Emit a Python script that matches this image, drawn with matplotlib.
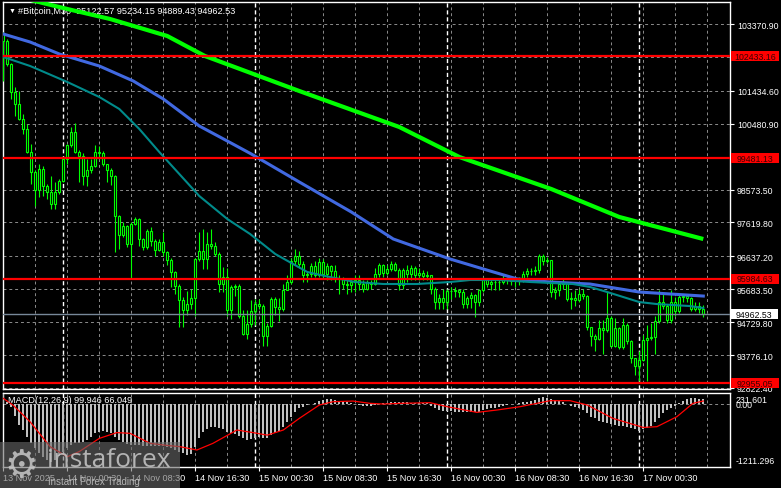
import numpy as np
import matplotlib.pyplot as plt
from matplotlib.patches import Rectangle

plt.rcParams['font.family'] = ['Liberation Sans', 'DejaVu Sans']

# --- M30 candles (open of each bar = close of the bar before)
first_open = 103100
closes = [102890, 102210, 101390, 101050, 100620, 100330, 99660, 99090, 98570, 99170,
          98690, 98510, 98160, 98510, 98830, 99460, 99850, 100230, 99670, 99540,
          98980, 99150, 99270, 99670, 99620, 99300, 99150, 98980, 97820, 97260,
          97530, 97000, 97580, 97720, 97140, 96900, 97380, 97070, 96830, 97040,
          96760, 96540, 96180, 95790, 95360, 95070, 95260, 95420, 96560, 96800,
          96550, 97000, 96950, 96700, 95840, 96030, 95070, 95740, 95790, 94920,
          94390, 94680, 95040, 95260, 95200, 94330, 94610, 95390, 95160, 95100,
          95670, 95890, 96510, 96660, 96420, 96100, 96130, 96370, 96100, 96470,
          96130, 96370, 96200, 95980, 95990, 95850, 95820, 95900, 95960, 95850,
          95700, 95860, 95840, 96130, 96400, 96150, 96270, 96410, 96250, 95800,
          96230, 96120, 96300, 96100, 96150, 96080, 96100, 95690, 95310, 95420,
          95310, 95640, 95620, 95650, 95600, 95260, 95420, 95530, 95300, 95650,
          95980, 95850, 95890, 95900, 95880, 96000, 95950, 95920, 95920, 95950,
          96120, 96220, 96200, 96230, 96640, 96500, 96520, 95600, 95660, 95830,
          95880, 95400, 95420, 95380, 95560, 95500, 94580, 94330, 94230, 94550,
          94500, 94840, 94050, 94560, 94000, 94640, 94180, 93680, 93470, 93640,
          94220, 94270, 94300, 94770, 95300, 95200, 94780, 95310, 95050, 95450,
          95480, 95420, 95120, 95200, 95122.57, 94962.53]
highs = [103130, 102930, 102250, 101550, 101440, 100760, 100470, 99890, 99150, 99310,
         99270, 98720, 98980, 98800, 98880, 99500, 99900, 100380, 100490, 99720,
         99620, 99460, 99460, 99860, 99840, 99700, 99320, 99200, 99000, 97850,
         97620, 97560, 97620, 97780, 97760, 97180, 97440, 97500, 97150, 97150,
         97330, 96800, 96580, 96200, 95850, 95450, 95640, 95700, 96600, 97330,
         97430, 97330, 97430, 97050, 96750, 96320, 96290, 95800, 95830, 95830,
         95070, 95070, 95360, 95400, 95400, 95250, 94700, 95450, 95450, 95420,
         95850, 96100, 96600, 96850, 96800, 96500, 96200, 96450, 96500, 96600,
         96550, 96450, 96400, 96400, 96100, 96050, 95950, 96000, 96100, 96100,
         95950, 95950, 95950, 96300, 96450, 96420, 96380, 96500, 96480, 96300,
         96300, 96400, 96400, 96350, 96300, 96250, 96200, 96050, 95750, 95550,
         95700, 95700, 95750, 95750, 95700, 95700, 95500, 95600, 95550, 95700,
         96050, 96000, 95950, 96000, 96000, 96100, 96050, 96050, 96050, 96050,
         96200, 96300, 96300, 96350, 96700, 96700, 96620, 96530, 95750, 95900,
         96000, 95900, 95600, 95650, 95700, 95700, 95520, 94600, 94400, 94800,
         94800, 95600, 94900, 94850, 94600, 94850, 94700, 94200, 93700, 93900,
         94350, 94650, 94700, 94900, 95650, 95550, 95250, 95650, 95450, 95550,
         95550, 95550, 95450, 95300, 95300, 95234.15]
lows = [101730, 102150, 101200, 100710, 100600, 100180, 99620, 98730, 98110, 98360,
        98390, 98300, 98010, 98010, 98450, 98800, 99300, 99800, 99620, 98780,
        98700, 98690, 99050, 99230, 99490, 99250, 98780, 98700, 96760, 96850,
        97200, 96900, 96000, 97550, 96950, 96820, 96850, 96950, 96650, 96800,
        96660, 96400, 95740, 95550, 94590, 94600, 94950, 95100, 94920, 96500,
        96270, 96270, 96850, 96650, 95600, 95600, 94920, 94820, 95500, 94850,
        94350, 94240, 94600, 94640, 95100, 94050, 94050, 94580, 94950, 94760,
        95050, 95650, 95850, 96400, 96300, 95900, 95900, 96050, 96050, 96050,
        96000, 95950, 95950, 95900, 95560, 95700, 95550, 95600, 95600, 95650,
        95600, 95650, 95700, 95800, 96050, 96050, 96100, 96200, 96200, 95650,
        95700, 95900, 95950, 95950, 95950, 95950, 95950, 95560, 95100, 95100,
        95120, 95100, 95400, 95450, 95450, 95150, 95150, 95150, 94870, 95200,
        95600, 95750, 95650, 95650, 95650, 95850, 95850, 95800, 95750, 95800,
        95900, 96050, 96100, 96100, 96150, 96400, 96450, 95450, 95400, 95500,
        95700, 95330, 95100, 95200, 95300, 95400, 94500, 94050, 93900, 94200,
        93800, 94450, 94000, 94000, 93950, 93950, 94100, 93550, 93200, 93030,
        93600, 93030, 94200, 93810, 94700, 95100, 94700, 94700, 94900, 95000,
        95300, 95300, 95050, 95050, 95000, 94889.43]

# --- moving averages (bar index, price)
ma_green_idx = [0, 7.4, 16, 26.7, 41, 50.4, 74, 99, 114, 137, 154, 175]
ma_green_val = [104300, 104050, 103806, 103516, 103023, 102444, 101429, 100386,
                99517, 98589, 97778, 97140]
ma_blue_idx = [0, 6.7, 14, 24, 32.5, 40, 49, 56, 62, 74, 87, 97.5, 111.7, 121.7,
               128.5, 136.7, 146.7, 159, 175]
ma_blue_val = [103081, 102849, 102502, 102154, 101719, 101198, 100415, 99980, 99604,
               98792, 97923, 97140, 96560, 96213, 95981, 95893, 95835, 95603, 95487]
ma_teal_idx = [0, 6.7, 16, 24, 29, 34, 39, 44, 49, 56, 61.7, 68, 76, 80.4, 88, 95,
               103.4, 111.7, 116.7, 124, 131.7, 142.4, 146.7, 151, 155, 159, 163.4,
               171.7, 175]
ma_teal_val = [102415, 102154, 101690, 101256, 100908, 100328, 99661, 99024, 98386,
               97720, 97285, 96705, 96184, 96068, 95894, 95836, 95836, 95894, 95952,
               95952, 95894, 95836, 95749, 95603, 95458, 95313, 95255, 95197, 95139]

# --- MACD(12,26,9)
macd_hist = [200, 40, -45, -235, -403, -500, -630, -760, -858, -955,
             -1030, -1080, -1120, -1090, -1000, -923, -858, -793, -760, -745,
             -728, -700, -630, -565, -533, -520, -545, -565, -630, -695,
             -740, -780, -790, -790, -800, -806, -806, -810, -815, -815,
             -820, -825, -858, -890, -925, -955, -988, -960, -825, -663,
             -546, -480, -436, -450, -468, -480, -533, -560, -585, -611,
             -663, -695, -680, -650, -645, -663, -663, -598, -565, -520,
             -436, -338, -240, -143, -78, -45, -13, 6, 33, 65,
             85, 104, 104, 85, 65, 52, 39, 20, 6, -13,
             -26, -32, -26, -13, 6, 20, 33, 45, 52, 45,
             39, 39, 33, 33, 33, 33, 20, -26, -78, -110,
             -130, -130, -130, -143, -143, -156, -156, -143, -156, -143,
             -110, -91, -78, -65, -45, -26, -13, 0, 13, 26,
             39, 52, 72, 85, 130, 150, 130, 104, 85, 65,
             39, 0, -26, -45, -78, -110, -175, -240, -273, -325,
             -350, -370, -390, -403, -416, -422, -435, -455, -481, -520,
             -481, -455, -416, -350, -273, -175, -110, -65, -26, 20,
             65, 104, 117, 117, 104, 99.946]
signal_idx = [0, 2.4, 6.7, 11.7, 16, 19, 24, 28.4, 31.7, 36.7, 40.9, 44.2, 48.4,
              52.4, 58.4, 62.4, 66, 70, 74, 79, 82.4, 87.4, 91.7, 95, 99.2, 106.7,
              111, 118.4, 123.4, 129.2, 136.7, 141.7, 146, 152.4, 160, 163.4, 168.4,
              172.4, 175]
signal_val = [117, -13, -340, -825, -1020, -920, -663, -550, -565, -760, -800, -825,
              -890, -760, -500, -550, -600, -500, -273, -13, 52, 65, 20, 7, 20, 33,
              -45, -156, -110, -45, 72, 72, -13, -273, -450, -435, -240, 20, 66.049]

# --- levels and axis labels
red_levels = [102433.16, 99481.13, 95984.63, 92955.05]
last_price = 94962.53
price_ticks = [103370.90, 101434.60, 100480.90, 98573.50, 97619.80, 96637.20,
               95683.50, 94729.80, 93776.10, 92822.40]
hidden_grid = [102402.75, 99527.20]
time_idx = [0, 16, 32, 48, 64, 80, 96, 112, 128, 144, 160]
time_labels = ["13 Nov 2025", "14 Nov 00:30", "14 Nov 08:30", "14 Nov 16:30",
               "15 Nov 00:30", "15 Nov 08:30", "15 Nov 16:30", "16 Nov 00:30",
               "16 Nov 08:30", "16 Nov 16:30", "17 Nov 00:30"]
day_sep_idx = [15, 63, 111, 159]

W, H = 781, 489
fig = plt.figure(figsize=(W / 100, H / 100), dpi=100, facecolor="black")


def px_box(x0, y0, x1, y1):
    return [x0 / W, 1 - y1 / H, (x1 - x0) / W, (y1 - y0) / H]


ax = fig.add_axes(px_box(3, 3, 730, 390))
ax2 = fig.add_axes(px_box(3, 393.5, 730, 467.5))
GRID = "#8c8c8c"
for a in (ax, ax2):
    a.set_facecolor("black")
    for s in a.spines.values():
        s.set_color("white")
        s.set_linewidth(1)
    a.set_xlim(-0.075, 181.675)
    for i in range(0, 182, 8):
        a.axvline(i, color=GRID, lw=0.7, ls=(0, (3, 3)), zorder=1)
    for i in day_sep_idx:
        a.axvline(i, color="white", lw=1, ls=(0, (3, 2)), zorder=2)

# --- main panel
ax.set_ylim(92793.2, 104008.5)
for v in price_ticks + hidden_grid:
    ax.axhline(v, color=GRID, lw=0.7, ls=(0, (3, 3)), zorder=1)

idx = np.arange(len(closes))
c = np.array(closes, dtype=float)
o = np.r_[first_open, c[:-1]]
hi = np.maximum(np.array(highs, dtype=float), np.maximum(o, c))
lo = np.minimum(np.array(lows, dtype=float), np.minimum(o, c))
ax.vlines(idx, lo, hi, color="#00ff00", lw=0.8, zorder=3)
body_h = np.maximum(np.abs(c - o), 15)
ax.bar(idx, body_h, bottom=np.minimum(o, c), width=0.55, facecolor="black",
       edgecolor="#00ff00", linewidth=0.8, zorder=4)

ax.plot(ma_green_idx, ma_green_val, color="#00ff00", lw=3.0, zorder=5,
        solid_capstyle="butt")
ax.plot(ma_blue_idx, ma_blue_val, color="#4169e1", lw=2.2, zorder=5)
ax.plot(ma_teal_idx, ma_teal_val, color="#008b8b", lw=1.5, zorder=5)

ax.axhline(last_price, color="#778899", lw=1, zorder=5.5)
for v in red_levels:
    ax.axhline(v, color="#ff0000", lw=1.6, zorder=6)

ax.set_xticks([])
ax.yaxis.tick_right()
ax.set_yticks(price_ticks)
ax.set_yticklabels([f"{v:.2f}" for v in price_ticks])
ax.tick_params(axis="y", colors="white", labelsize=6.3, length=3, width=0.8, pad=2)

ytr = ax.get_yaxis_transform()
box_h = 10 * 28.98
for v in red_levels:
    ax.add_patch(Rectangle((1.0014, v - box_h / 2), 0.066, box_h, transform=ytr,
                           facecolor="#ff0000", edgecolor="none", clip_on=False,
                           zorder=10))
    ax.text(1.0344, v, f"{v:.2f}", transform=ytr, ha="center", va="center",
            color="#3a0000", fontsize=6.3, clip_on=False, zorder=11)
ax.add_patch(Rectangle((1.0014, last_price - box_h / 2), 0.064, box_h, transform=ytr,
                       facecolor="white", edgecolor="none", clip_on=False, zorder=10))
ax.text(1.0334, last_price, f"{last_price:.2f}", transform=ytr, ha="center",
        va="center", color="black", fontsize=6.3, clip_on=False, zorder=11)

ax.text(6 / 727, 1 - 8 / 387, "\u25bc", transform=ax.transAxes, color="white",
        fontsize=5, va="center", ha="left", zorder=4.5)
ax.text(15 / 727, 1 - 8 / 387, "#Bitcoin,M30  95122.57 95234.15 94889.43 94962.53",
        transform=ax.transAxes, color="white", fontsize=6.6, va="center",
        ha="left", zorder=4.5)

# --- MACD panel
ax2.set_ylim(-1211.296, 231.601)
ax2.axhline(0, color=GRID, lw=0.7, ls=(0, (3, 3)), zorder=1)
ax2.bar(idx, macd_hist, width=0.5, color="#c0c0c0", zorder=3)
ax2.plot(signal_idx, signal_val, color="#ff0000", lw=0.9, zorder=4)
ax2.set_yticks([])
ax2.set_xticks(time_idx)
ax2.set_xticklabels(time_labels, ha="left")
ax2.tick_params(axis="x", colors="white", labelsize=6.6, length=3, width=0.8, pad=2)

ax2.text(5 / 727, 0.9, "MACD(12,26,9) 99.946 66.049", transform=ax2.transAxes,
         color="white", fontsize=6.6, va="center", ha="left", zorder=5)
ax2.text(1.0083, 0.91, "231.601", transform=ax2.transAxes, color="white",
         fontsize=6.3, va="center", ha="left")
ax2.text(1.0083, 0, "0.00", transform=ax2.get_yaxis_transform(), color="white",
         fontsize=6.3, va="center", ha="left")
ax2.text(1.0083, 0.075, "-1211.296", transform=ax2.transAxes, color="white",
         fontsize=6.3, va="center", ha="left")

# --- watermark
fig.patches.append(Rectangle((0, 0), 180 / W, 46 / H, transform=fig.transFigure,
                             facecolor="#6a6a6a", edgecolor="none", alpha=0.6,
                             zorder=20))
fig.text(4 / W, 1 - 467 / H, "\u2699", color="#c8c8c8", fontsize=27,
         family="DejaVu Sans", va="center", ha="left", alpha=0.85, zorder=21)
fig.text(47 / W, 1 - 461 / H, "instaforex", color="#c8c8c8", fontsize=19,
         family="Open Sans", va="center", ha="left", alpha=0.85, zorder=21)
fig.text(48 / W, 1 - 482 / H, "Instant Forex Trading", color="#c8c8c8", fontsize=7,
         va="center", ha="left", alpha=0.85, zorder=21)

fig.savefig("out.png", dpi=100, facecolor="black")
